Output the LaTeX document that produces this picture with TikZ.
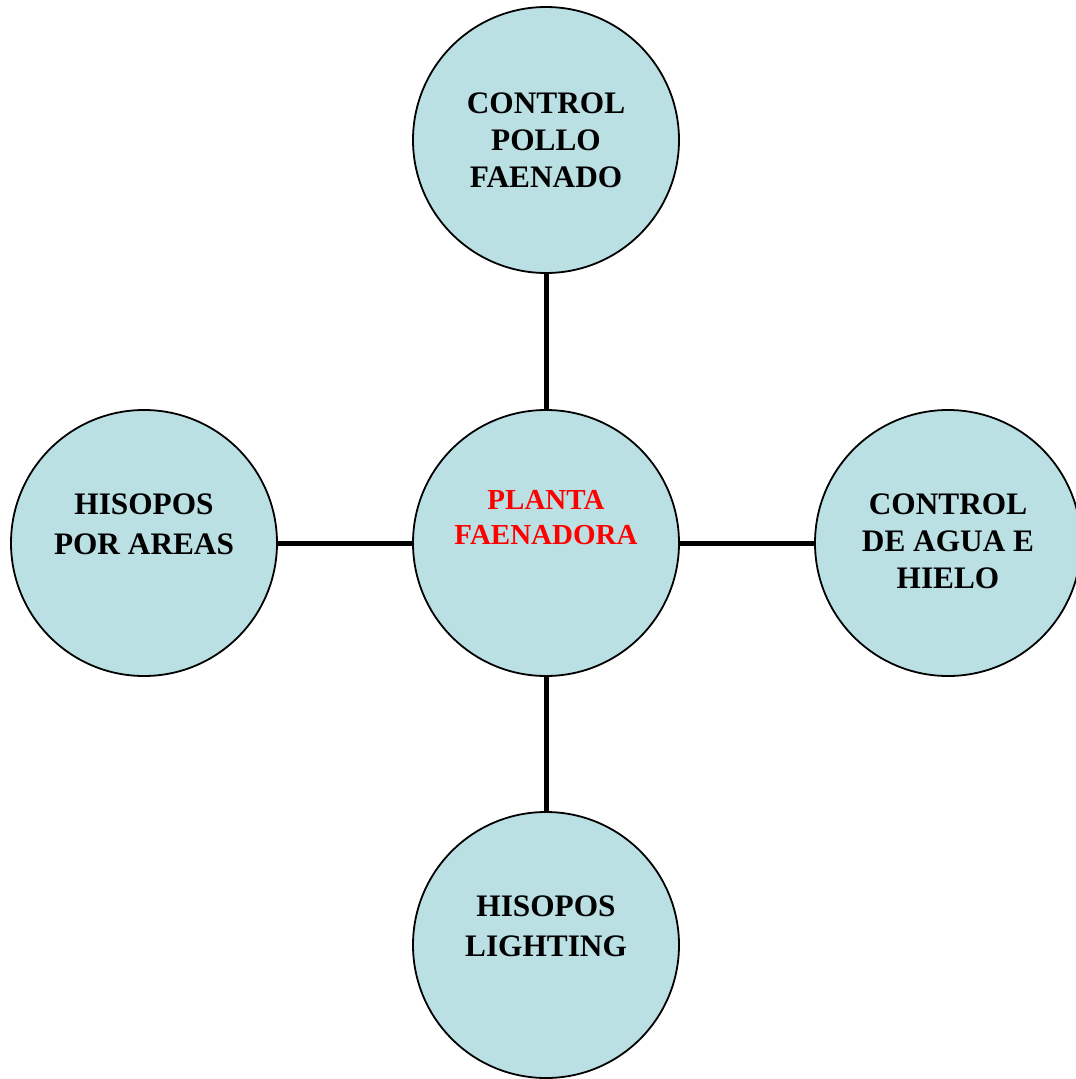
\documentclass[tikz,border=0pt]{standalone}
\usepackage{fontspec}
\setmainfont{Liberation Serif}
\definecolor{bubble}{HTML}{BBE0E3}
\begin{document}
\begin{tikzpicture}[x=1pt,y=-1pt,
  bubble/.style={circle,draw=black,line width=1.8pt,fill=bubble,
    minimum size=266pt,inner sep=0pt},
  lbl/.style={align=center,inner sep=0pt,
    font=\bfseries\fontsize{31.3}{37}\selectfont},
  wide/.style={font=\bfseries\fontsize{31.3}{40}\selectfont},
  hubfont/.style={font=\bfseries\fontsize{29}{35}\selectfont},
  spoke/.style={line width=5pt,draw=black}]
\useasboundingbox (0,0) rectangle (1076,1079);
% the hub and its four satellites
\node[bubble] (hub)    at (546,543) {};
\node[bubble] (top)    at (546,140) {};
\node[bubble] (left)   at (144,543) {};
\node[bubble] (right)  at (948,543) {};
\node[bubble] (bottom) at (546,945) {};
% spokes joining the hub to each satellite
\draw[spoke] (hub.north) -- (top.south);
\draw[spoke] (hub.west)  -- (left.east);
\draw[spoke] (hub.east)  -- (right.west);
\draw[spoke] (hub.south) -- (bottom.north);
% labels
\node[lbl,hubfont,text=red] (hubtxt) at (546,517.5) {PLANTA\\FAENADORA};
\node[lbl] (toptxt) at (546,140) {CONTROL\\POLLO\\FAENADO};
\node[lbl,wide] (lefttxt) at (144,524) {HISOPOS\\POR AREAS};
\node[lbl] (righttxt) at (948,541) {CONTROL\\DE AGUA E\\HIELO};
\node[lbl,wide] (bottomtxt) at (546,926) {HISOPOS\\LIGHTING};
\end{tikzpicture}
\end{document}
